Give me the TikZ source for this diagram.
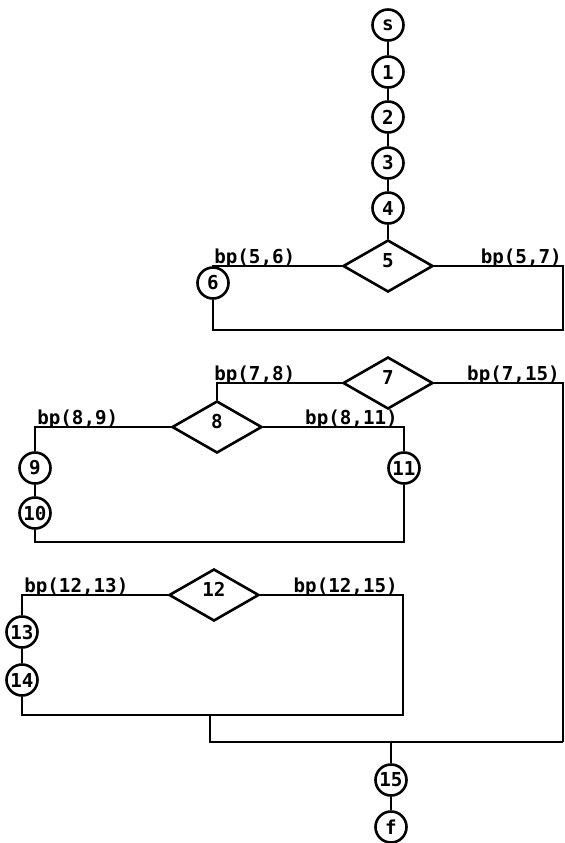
\documentclass[tikz,border=0pt]{standalone}
\usepackage{fontspec}
\setmonofont{DejaVu Sans Mono}
\usetikzlibrary{shapes.geometric}
\tikzset{
  blk/.style={draw,circle,minimum size=15.5pt,inner sep=0pt,font=\ttfamily\bfseries\fontsize{9.6}{10}\selectfont},
  dec/.style={draw,diamond,minimum width=45pt,minimum height=26pt,inner sep=0pt,text height=7pt,text depth=6pt,font=\ttfamily\bfseries\fontsize{9.6}{10}\selectfont},
  bplab/.style={inner sep=0pt,font=\ttfamily\bfseries\fontsize{9.6}{10}\selectfont}
}
\begin{document}
\begin{tikzpicture}[x=.5pt,y=-.5pt,line width=1.3pt]
\useasboundingbox (0,0) rectangle (564,843);
% main column
\foreach \t/\y in {s/25,1/72,2/117,3/163,4/208}{
  \node[blk] (n\t) at (388,\y) {\t};
}
\node[dec] (n5) at (388,266) {5};
\foreach \a/\b in {s/1,1/2,2/3,3/4,4/5}{
  \draw (n\a) -- (n\b);
}
% box 5
\coordinate (a5) at (213,266);
\coordinate (b5) at (213,330);
\coordinate (c5) at (563,330);
\coordinate (e5) at (563,266);
\node[blk] (n6) at (213,283) {6};
\draw (n5.west) -- (a5) -- (n6) -- (b5) -- (c5) -- (e5) -- (n5.east);
\node[bplab,anchor=base west] (l56) at (213,263.5) {bp(5,6)};
\node[bplab,anchor=base east] (l57) at (563,263.5) {bp(5,7)};
% box 7
\node[dec] (n7) at (388,383) {7};
\node[dec] (n8) at (217,427) {8};
\coordinate (a7) at (217,383);
\coordinate (e7) at (563,383);
\coordinate (m3) at (563,742);
\draw (n7.west) -- (a7) -- (n8);
\draw (n7.east) -- (e7) -- (m3);
\node[bplab,anchor=base west] (l78) at (213,380.5) {bp(7,8)};
\node[bplab,anchor=base east] (l715) at (561,380.5) {bp(7,15)};
% box 8
\coordinate (a8) at (35,427);
\coordinate (b8) at (35,542);
\coordinate (c8) at (404,542);
\coordinate (e8) at (404,427);
\node[blk] (n9) at (35,468) {9};
\node[blk] (n10) at (35,513) {10};
\node[blk] (n11) at (404,468) {11};
\draw (n8.west) -- (a8) -- (n9) -- (n10) -- (b8) -- (c8) -- (n11) -- (e8) -- (n8.east);
\node[bplab,anchor=base west] (l89) at (36,424.5) {bp(8,9)};
\node[bplab,anchor=base east] (l811) at (399,424.5) {bp(8,11)};
% box 12
\node[dec] (n12) at (214,595) {12};
\coordinate (a12) at (22,595);
\coordinate (b12) at (22,715);
\coordinate (c12) at (403,715);
\coordinate (e12) at (403,595);
\node[blk] (n13) at (22,632) {13};
\node[blk] (n14) at (22,680) {14};
\draw (n12.west) -- (a12) -- (n13) -- (n14) -- (b12) -- (c12) -- (e12) -- (n12.east);
\node[bplab,anchor=base west] (l1213) at (23,592.5) {bp(12,13)};
\node[bplab,anchor=base east] (l1215) at (399,592.5) {bp(12,15)};
% exit
\coordinate (m1) at (210,715);
\coordinate (m2) at (210,742);
\coordinate (m4) at (391,742);
\node[blk] (n15) at (391,780) {15};
\node[blk] (nf) at (391,827) {f};
\draw (m1) -- (m2) -- (m3);
\draw (m4) -- (n15) -- (nf);
\end{tikzpicture}
\end{document}
